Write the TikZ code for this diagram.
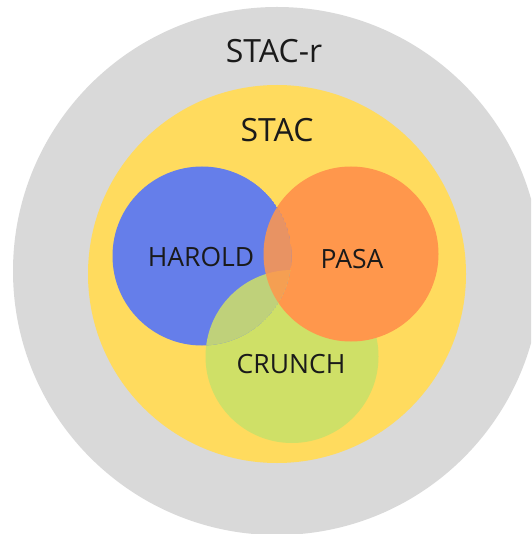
\documentclass[tikz,border=0pt]{standalone}
\usepackage{fontspec}
\setmainfont{Open Sans}
\definecolor{ringgray}{HTML}{D9D9D9}
\definecolor{stacyellow}{HTML}{FFDB5E}
\definecolor{haroldblue}{HTML}{657EEA}
\definecolor{pasaorange}{HTML}{FF974C}
\definecolor{crunchgreen}{HTML}{CFE067}
\definecolor{labelink}{HTML}{1A1A1A}
\begin{document}
\begin{tikzpicture}[x=1pt,y=-1pt,
  setlabel/.style={text=labelink, inner sep=0pt, font=\fontsize{#1}{#1}\selectfont},
  setlabel/.default=26.5]
  \useasboundingbox (0,0) rectangle (531,534);
  \clip (0,0) rectangle (531,534);
  \fill[white] (0,0) rectangle (531,534);

  % outer ring and the STAC disc
  \fill[ringgray] (277,271) circle[radius=264];
  \fill[stacyellow] (277,274) circle[radius=189];

  % the three overlapping sets: opaque outside HAROLD
  \def\greendisc{(292,356.5) circle[radius=86.5]}
  \def\orangedisc{(351,254) circle[radius=87.5]}
  \def\bluedisc{(202,256) circle[radius=89.5]}
  \fill[crunchgreen] \greendisc;
  \fill[pasaorange] \orangedisc;
  % inside HAROLD the other two sets are see-through
  \begin{scope}
    \clip \bluedisc;
    \fill[haroldblue] \bluedisc;
    \fill[crunchgreen, fill opacity=0.85] \greendisc;
    \fill[pasaorange, fill opacity=0.85] \orangedisc;
  \end{scope}

  % labels
  \node[setlabel=32] (stacr) at (274,51) {STAC-r};
  \node[setlabel=32] (stac) at (277,130) {STAC};
  \node[setlabel] (harold) at (201,257) {HAROLD};
  \node[setlabel] (pasa) at (352,259) {PASA};
  \node[setlabel] (crunch) at (291,364) {CRUNCH};
\end{tikzpicture}
\end{document}
